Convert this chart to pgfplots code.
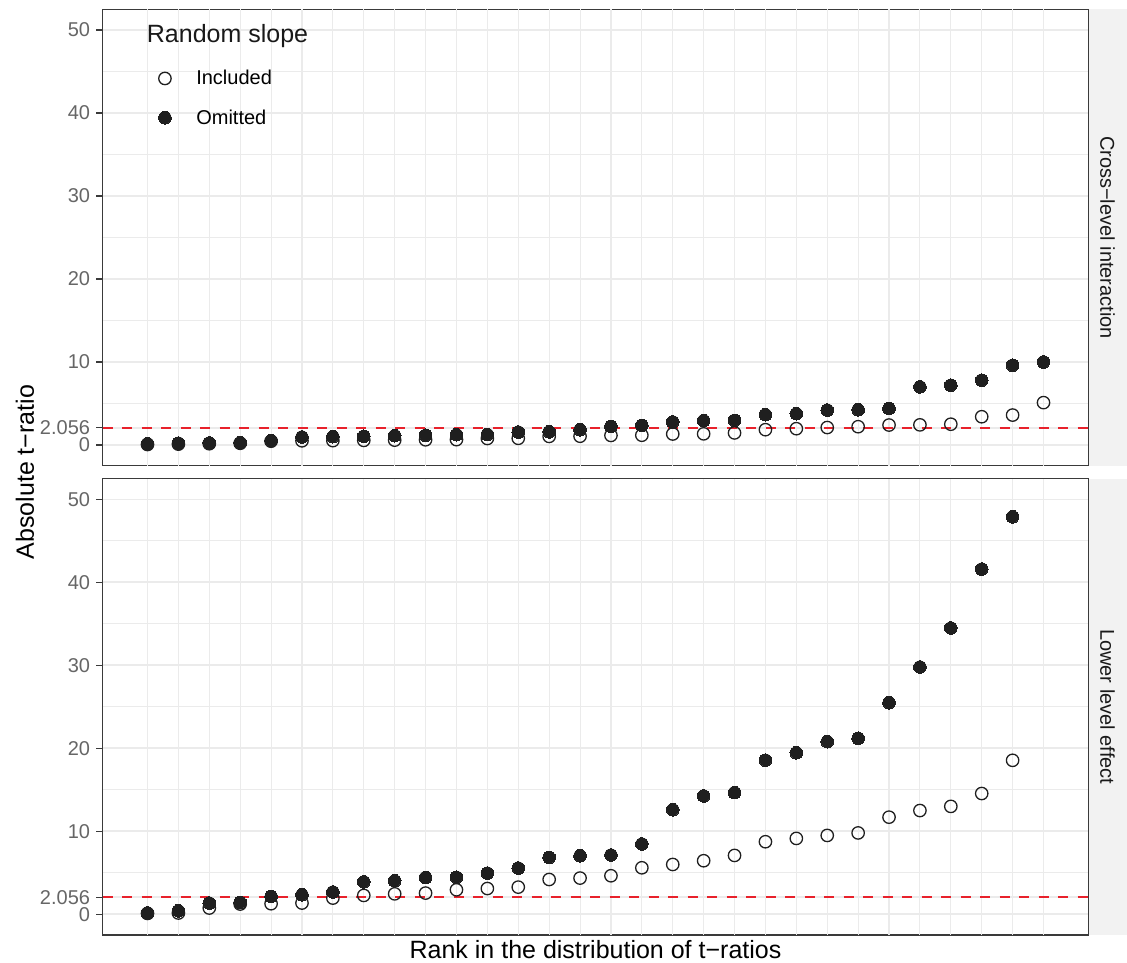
\documentclass[border=0pt]{standalone}
\usepackage{pgfplots}
\pgfplotsset{compat=1.18}
\usepackage{fontspec}
\setmainfont{Liberation Sans}
\definecolor{gridc}{HTML}{EBEBEB}
\definecolor{border}{HTML}{3A3A3A}
\definecolor{ticklab}{HTML}{666666}
\definecolor{ptc}{HTML}{1F1F1F}
\definecolor{redl}{HTML}{E8212B}
\definecolor{stripc}{HTML}{F2F2F2}

\pgfplotstableread{
x incl omit
1 0.05 0.15
2 0.10 0.22
3 0.15 0.24
4 0.20 0.26
5 0.45 0.52
6 0.50 0.96
7 0.52 1.00
8 0.55 1.04
9 0.58 1.12
10 0.62 1.16
11 0.64 1.24
12 0.78 1.26
13 0.80 1.56
14 1.03 1.58
15 1.05 1.84
16 1.15 2.24
17 1.17 2.36
18 1.32 2.77
19 1.34 2.93
20 1.45 2.96
21 1.84 3.65
22 1.96 3.77
23 2.10 4.20
24 2.20 4.25
25 2.40 4.40
26 2.42 7.00
27 2.50 7.20
28 3.40 7.80
29 3.60 9.60
30 5.10 10.00
}\crosslevel

\pgfplotstableread{
x incl omit
1 0.10 0.15
2 0.15 0.42
3 0.75 1.35
4 1.23 1.43
5 1.27 2.15
6 1.35 2.35
7 1.95 2.68
8 2.27 3.90
9 2.46 4.03
10 2.55 4.43
11 2.95 4.45
12 3.10 4.96
13 3.27 5.57
14 4.19 6.85
15 4.36 7.05
16 4.64 7.14
17 5.60 8.47
18 6.00 12.60
19 6.45 14.26
20 7.09 14.66
21 8.74 18.57
22 9.14 19.46
23 9.50 20.80
24 9.80 21.20
25 11.70 25.50
26 12.50 29.80
27 13.00 34.50
28 14.55 41.60
29 18.55 47.90
}\lowerlevel

\pgfplotsset{
 panel/.style={
  scale only axis, width=985.6pt, height=456.4pt,
  xmin=-0.45, xmax=31.45, ymin=-2.5, ymax=52.5,
  xtick=\empty,
  extra x ticks={1,2,3,4,5,6,7,8,9,10,11,12,13,14,15,16,17,18,19,20,21,22,23,24,25,26,27,28,29,30},
  extra x tick labels={},
  extra x tick style={grid=major, major grid style={draw=gridc, line width=1.1pt}, major tick length=0pt, tick style={draw=none}},
  ytick={0,2.056,10,20,30,40,50},
  yticklabels={0,2.056,10,20,30,40,50},
  minor ytick={5,15,25,35,45},
  ymajorgrids=true, yminorgrids=true,
  major grid style={draw=gridc, line width=1.7pt},
  minor grid style={draw=gridc, line width=1.1pt},
  axis line style={draw=border, line width=1.2pt},
  tick align=outside, tick pos=left,
  major tick length=6.5pt, minor tick length=0pt,
  tick style={draw=border, line width=1.1pt},
  yticklabel style={font=\fontsize{20}{24}\selectfont, text=ticklab, inner sep=0pt, xshift=-6pt},
 },
 myleg/.style={legend image code/.code={\draw[mark repeat=2,mark phase=2,##1] plot coordinates {(0pt,0pt)(8pt,0pt)(16pt,0pt)};}},
 incl/.style={only marks, mark=o, mark size=6.2pt, mark options={draw=ptc, line width=1.3pt, fill=none}, myleg},
 omit/.style={only marks, mark=*, mark size=6.35pt, mark options={draw=ptc, fill=ptc, line width=0pt}, myleg},
 thr/.style={redl, dash pattern=on 10pt off 9.5pt, line width=2.6pt, forget plot},
}

\begin{document}
\begin{tikzpicture}[x=1pt,y=1pt]
\path[use as bounding box] (0,0) rectangle (1127,962);

\begin{axis}[panel, at={(102.7pt,496.3pt)}, anchor=south west,
  legend cell align=left,
  legend style={draw=none, fill=none, at={(0.0567,0.866)}, anchor=north west,
    font=\fontsize{20}{24}\selectfont, row sep=23.3pt, inner sep=0pt, outer sep=0pt,
    /tikz/every odd column/.append style={column sep=25pt},
    nodes={inner sep=0pt, anchor=west}}]
\addplot[thr] coordinates {(-0.45,2.056) (31.45,2.056)};
\addplot[incl] table[x=x, y=incl] {\crosslevel};
\addplot[omit] table[x=x, y=omit] {\crosslevel};
\legend{Included, Omitted}
\end{axis}

\begin{axis}[panel, at={(102.7pt,27pt)}, anchor=south west]
\addplot[thr] coordinates {(-0.45,2.056) (31.45,2.056)};
\addplot[incl] table[x=x, y=incl] {\lowerlevel};
\addplot[omit] table[x=x, y=omit] {\lowerlevel};
\end{axis}

% strips
\fill[stripc] (1089.3,496.3) rectangle (1127,952.7);
\fill[stripc] (1089.3,27) rectangle (1127,483.4);
\node[rotate=-90, font=\fontsize{20}{24}\selectfont, text=black!90, inner sep=0pt] at (1107.6,724.5) {Cross−level interaction};
\node[rotate=-90, font=\fontsize{20}{24}\selectfont, text=black!90, inner sep=0pt] at (1107.6,255.2) {Lower level effect};

% legend title
\node[anchor=base west, font=\fontsize{25}{30}\selectfont, text=black!90, inner sep=0pt] at (146.7,919) {Random slope};

% axis titles
\node[rotate=90, font=\fontsize{25}{30}\selectfont, inner sep=0pt] at (25,490) {Absolute t−ratio};
\node[font=\fontsize{25}{30}\selectfont, inner sep=0pt, anchor=base] at (595.5,4) {Rank in the distribution of t−ratios};
\end{tikzpicture}
\end{document}
